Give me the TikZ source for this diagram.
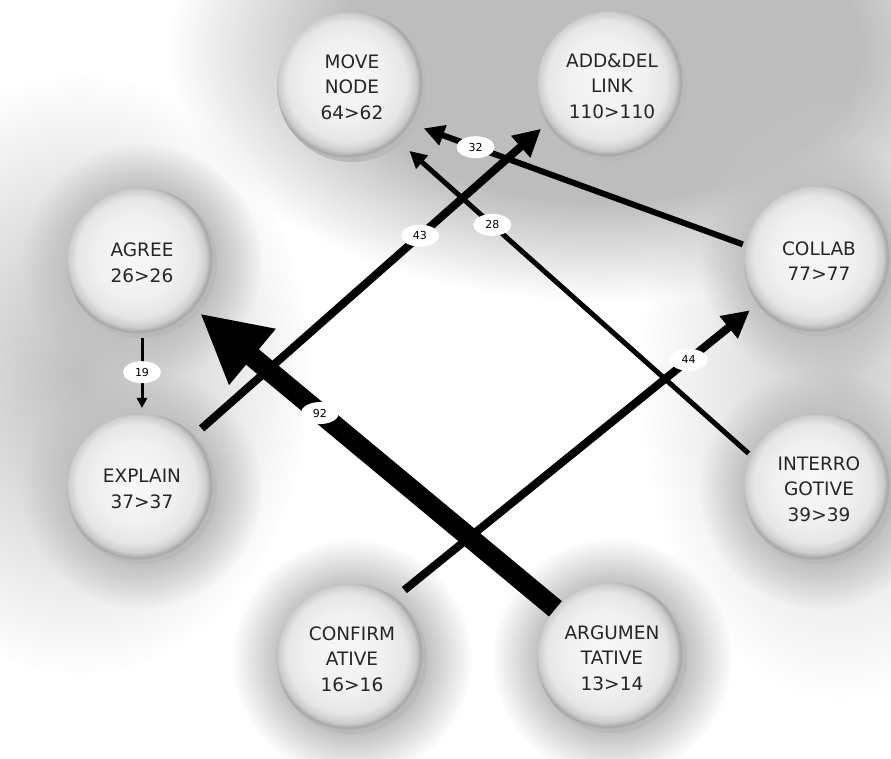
\documentclass[tikz,border=0pt]{standalone}
\usepackage{fontspec}
\setmainfont{DejaVu Sans}
\usepackage{xcolor}
\usetikzlibrary{arrows.meta,shapes.geometric,fadings}

\pgfdeclareradialshading{button}{\pgfpoint{-3bp}{3bp}}{color(0bp)=(gray!5); color(14bp)=(gray!12); color(20bp)=(gray!20); color(23bp)=(gray!40); color(24.5bp)=(gray!70); color(25bp)=(gray!55); color(50bp)=(gray!55)}
\pgfdeclareradialshading{halosh}{\pgfpointorigin}{color(0bp)=(white); color(15bp)=(white); color(25bp)=(black); color(50bp)=(black)}
\pgfdeclarefading{halo}{\pgfuseshading{halosh}}
\pgfdeclareradialshading{hazesh}{\pgfpointorigin}{color(0bp)=(white); color(25bp)=(black); color(50bp)=(black)}
\pgfdeclarefading{haze}{\pgfuseshading{hazesh}}

\begin{document}
\begin{tikzpicture}[x=1pt,y=-1pt,
    stage/.style={circle, minimum size=150pt, inner sep=0pt, outer sep=0pt, shade, shading=button, align=center, text=black!85, font=\fontsize{18.5}{25.5}\selectfont},
    cnt/.style={ellipse, fill=white, inner sep=0pt, minimum width=38pt, minimum height=22pt, text=black, font=\fontsize{11}{11}\selectfont},
    flow/.style={line width=#1, -{Triangle[length=0pt 3.4, width=0pt 3.4]}}]
                \useasboundingbox (0,0) rectangle (891,758);
                \fill[white] (0,0) rectangle (891,758);
                % grey haze behind the figure
                \fill[gray!52, path fading=halo] (600,50) ellipse (430pt and 250pt);
                \fill[gray!50, path fading=haze] (80,375) ellipse (230pt and 300pt);
                \fill[gray!40, path fading=haze] (840,380) ellipse (200pt and 320pt);
                \foreach \cx/\cy in {142/263, 819/261, 142/489, 819/489, 352/659, 612/658}
                    \fill[gray!50, path fading=halo] (\cx,\cy) circle (120pt);
                % stages
                \node[stage] (move) at (352,87) {MOVE\\NODE\\64>62};
                \node[stage] (adddel) at (612,86) {ADD\&DEL\\LINK\\110>110};
                \node[stage] (agree) at (142,263) {AGREE\\26>26};
                \node[stage] (collab) at (819,261) {COLLAB\\77>77};
                \node[stage] (explain) at (142,489) {EXPLAIN\\37>37};
                \node[stage] (interro) at (819,489) {INTERRO\\GOTIVE\\39>39};
                \node[stage] (confirm) at (352,659) {CONFIRM\\ATIVE\\16>16};
                \node[stage] (argumen) at (612,658) {ARGUMEN\\TATIVE\\13>14};
                % transitions
                \draw[flow=3pt, shorten >=6pt] (agree.270) -- node[cnt, pos=0.45]{19} (explain.90);
                \draw[flow=8pt, shorten <=10pt, shorten >=8pt] (explain.46) -- node[cnt, pos=0.64]{43} (adddel.210);
                \draw[flow=8pt, shorten <=12pt, shorten >=10pt] (confirm.55) -- node[cnt, pos=0.81]{44} (collab.215);
                \draw[flow=5pt, shorten <=4pt, shorten >=11pt] (interro.154) -- node[cnt, pos=0.74]{28} (move.311);
                \draw[flow=6pt, shorten <=3pt, shorten >=8pt] (collab.168) -- node[cnt, pos=0.82]{32} (move.329);
                \draw[flow=20pt, shorten >=2pt] (argumen.139) -- node[cnt, pos=0.66]{92} (agree.319);
\end{tikzpicture}
\end{document}
